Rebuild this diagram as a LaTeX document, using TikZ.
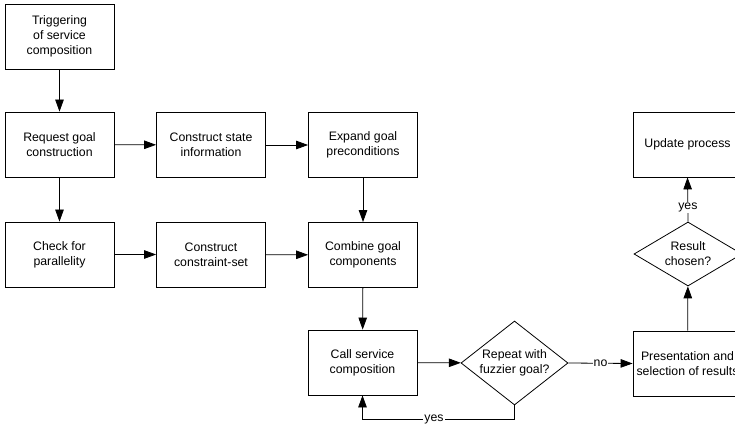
\documentclass[tikz,border=0pt]{standalone}
\usepackage{fontspec}
\setmainfont{Liberation Sans}
\usetikzlibrary{shapes.geometric,arrows.meta}
\begin{document}
\begin{tikzpicture}[x=1pt,y=-1pt,
  every node/.style={font=\fontsize{12.3}{15}\selectfont, align=center},
  stepbox/.style={draw, line width=0.8pt, minimum width=109pt, minimum height=65pt, inner sep=0pt},
  decision/.style={draw, diamond, line width=0.8pt, inner sep=0pt},
  arr/.style={draw, line width=0.8pt, -{Triangle[length=12pt,width=8.5pt]}},
  lbl/.style={fill=white, inner sep=1pt}]
\useasboundingbox (0,0) rectangle (735,427);

% process steps
\node[stepbox] (trig)    at (59.5,36.5)  {Triggering\\of service\\composition};
\node[stepbox] (req)     at (59.5,144.5) {Request goal\\construction};
\node[stepbox] (check)   at (59.5,254.5) {Check for\\parallelity};
\node[stepbox] (state)   at (211,145)    {Construct state\\information};
\node[stepbox] (constr)  at (211,254.5)  {Construct\\constraint-set};
\node[stepbox] (expand)  at (363,145)    {Expand goal\\preconditions};
\node[stepbox] (combine) at (363,255)    {Combine goal\\components};
\node[stepbox] (call)    at (362.5,362.5){Call service\\composition};
\node[stepbox] (present) at (687.5,363.5){Presentation and\\selection of results};
\node[stepbox] (update)  at (687.5,144.5){Update process};

% decisions
\node[decision, minimum width=107pt, minimum height=84pt, aspect=1.27] (repeat) at (514.5,363) {Repeat with\\fuzzier goal?};
\node[decision, minimum width=108pt, minimum height=64pt, aspect=1.69] (result) at (688,254) {Result\\chosen?};

% flow
\draw[arr] (trig) -- (req);
\draw[arr] (req) -- (state);
\draw[arr] (state) -- (expand);
\draw[arr] (req) -- (check);
\draw[arr] (check) -- (constr);
\draw[arr] (constr) -- (combine);
\draw[arr] (expand) -- (combine);
\draw[arr] (combine) -- (call);
\draw[arr] (call) -- (repeat);
\draw[arr] (repeat.east) -- node[lbl, pos=0.5] {no} (present.west);
\coordinate (loopR) at (514.5,419);
\draw[arr] (repeat.south) -- (loopR) -- node[lbl, pos=0.53] {yes} (loopR -| call.south) -- (call.south);
\draw[arr] (present) -- (result);
\draw[arr] (result.north) -- node[lbl, pos=0.32] {yes} (update.south);
\end{tikzpicture}
\end{document}
